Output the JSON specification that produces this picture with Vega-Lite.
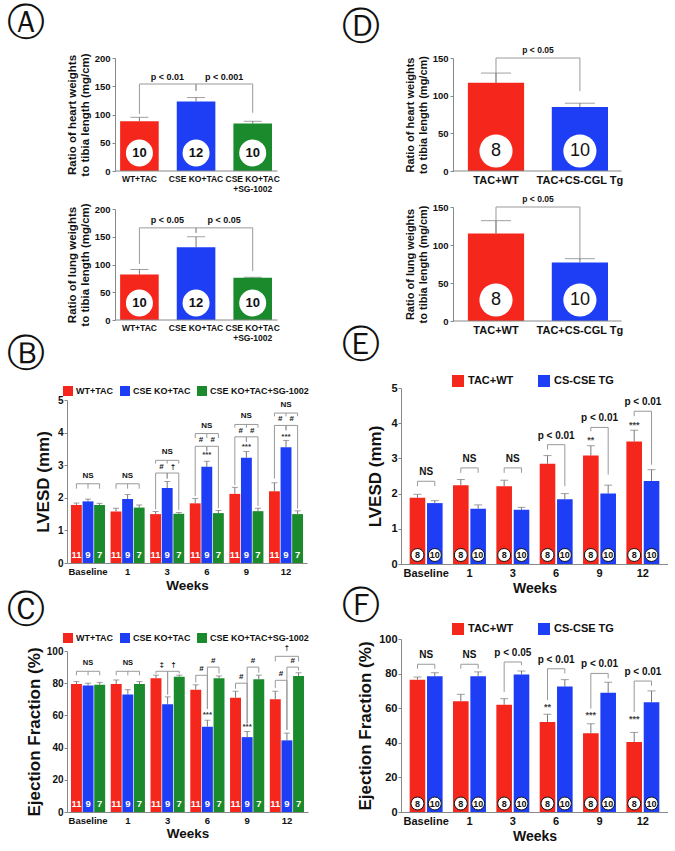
{
  "$schema": "https://vega.github.io/schema/vega-lite/v6.json",
  "padding": {"left": 7, "top": 4, "right": 0, "bottom": 0},
  "background": "white",
  "config": {
    "view": {"stroke": null},
    "font": "Liberation Sans",
    "axis": {"labelFont": "Liberation Sans", "titleFont": "Liberation Sans", "labelFontWeight": "bold", "titleFontWeight": "bold", "labelColor": "#111", "titleColor": "#111", "domainColor": "#888", "tickColor": "#888", "grid": false, "tickSize": 3, "labelOverlap": false},
    "axisX": {"ticks": false, "labelAngle": 0},
    "text": {"font": "Liberation Sans"},
    "legend": {"labelFont": "Liberation Sans", "labelFontWeight": "bold", "labelColor": "#111"}
  },
  "datasets": {
    "A_heart": [{"g": "WT+TAC", "v": 88, "e": 95, "n": "10"}, {"g": "CSE KO+TAC", "v": 123, "e": 130, "n": "12"}, {"g": "CSE KO+TAC+SG-1002", "v": 84, "e": 88, "n": "10"}],
    "A_lung": [{"g": "WT+TAC", "v": 82, "e": 91, "n": "10"}, {"g": "CSE KO+TAC", "v": 131, "e": 150, "n": "12"}, {"g": "CSE KO+TAC+SG-1002", "v": 76, "e": 77, "n": "10"}],
    "A_heart_br": [{"from": "WT+TAC", "to": "CSE KO+TAC", "level": 154, "lb": 101, "rb": 142, "label": "p < 0.01"}, {"from": "CSE KO+TAC", "to": "CSE KO+TAC+SG-1002", "level": 154, "lb": 142, "rb": 103, "label": "p < 0.001"}],
    "A_lung_br": [{"from": "WT+TAC", "to": "CSE KO+TAC", "level": 166, "lb": 101, "rb": 157, "label": "p < 0.05"}, {"from": "CSE KO+TAC", "to": "CSE KO+TAC+SG-1002", "level": 166, "lb": 157, "rb": 88, "label": "p < 0.05"}],
    "D_heart": [{"g": "TAC+WT", "v": 117, "e": 130, "n": "8"}, {"g": "TAC+CS-CGL Tg", "v": 85, "e": 90, "n": "10"}],
    "D_lung": [{"g": "TAC+WT", "v": 115, "e": 132, "n": "8"}, {"g": "TAC+CS-CGL Tg", "v": 77, "e": 82, "n": "10"}],
    "D_heart_br": [{"from": "TAC+WT", "to": "TAC+CS-CGL Tg", "level": 150, "lb": 117, "rb": 106, "label": "p < 0.05"}],
    "D_lung_br": [{"from": "TAC+WT", "to": "TAC+CS-CGL Tg", "level": 150, "lb": 115, "rb": 80, "label": "p < 0.05"}],
    "B": [
      {"week": "Baseline", "group": "WT+TAC", "v": 1.78, "e": 1.84, "n": "11"},
      {"week": "Baseline", "group": "CSE KO+TAC", "v": 1.89, "e": 1.96, "n": "9"},
      {"week": "Baseline", "group": "CSE KO+TAC+SG-1002", "v": 1.78, "e": 1.83, "n": "7"},
      {"week": "1", "group": "WT+TAC", "v": 1.58, "e": 1.68, "n": "11"},
      {"week": "1", "group": "CSE KO+TAC", "v": 1.96, "e": 2.1, "n": "9"},
      {"week": "1", "group": "CSE KO+TAC+SG-1002", "v": 1.7, "e": 1.78, "n": "7"},
      {"week": "3", "group": "WT+TAC", "v": 1.5, "e": 1.58, "n": "11"},
      {"week": "3", "group": "CSE KO+TAC", "v": 2.3, "e": 2.5, "n": "9"},
      {"week": "3", "group": "CSE KO+TAC+SG-1002", "v": 1.51, "e": 1.55, "n": "7"},
      {"week": "6", "group": "WT+TAC", "v": 1.83, "e": 1.98, "n": "11"},
      {"week": "6", "group": "CSE KO+TAC", "v": 2.95, "e": 3.12, "n": "9"},
      {"week": "6", "group": "CSE KO+TAC+SG-1002", "v": 1.53, "e": 1.61, "n": "7"},
      {"week": "9", "group": "WT+TAC", "v": 2.12, "e": 2.32, "n": "11"},
      {"week": "9", "group": "CSE KO+TAC", "v": 3.23, "e": 3.42, "n": "9"},
      {"week": "9", "group": "CSE KO+TAC+SG-1002", "v": 1.59, "e": 1.68, "n": "7"},
      {"week": "12", "group": "WT+TAC", "v": 2.2, "e": 2.46, "n": "11"},
      {"week": "12", "group": "CSE KO+TAC", "v": 3.55, "e": 3.76, "n": "9"},
      {"week": "12", "group": "CSE KO+TAC+SG-1002", "v": 1.5, "e": 1.6, "n": "7"}
    ],
    "B_stars": [{"week": "6", "group": "CSE KO+TAC", "y": 3.3, "label": "***"}, {"week": "9", "group": "CSE KO+TAC", "y": 3.56, "label": "***"}, {"week": "12", "group": "CSE KO+TAC", "y": 3.88, "label": "***"}],
    "B_br": [
      {"week": "Baseline", "from": "WT+TAC", "to": "CSE KO+TAC+SG-1002", "level": 2.43, "lb": 2.28, "rb": 2.28, "mb": 2.28, "label": "NS"},
      {"week": "1", "from": "WT+TAC", "to": "CSE KO+TAC+SG-1002", "level": 2.43, "lb": 2.28, "rb": 2.28, "mb": 2.28, "label": "NS"},
      {"week": "3", "from": "WT+TAC", "to": "CSE KO+TAC+SG-1002", "level": 3.15, "lb": 3.05, "rb": 3.05, "mb": 3.05, "label": "NS"},
      {"week": "3", "from": "WT+TAC", "to": "CSE KO+TAC", "level": 2.76, "lb": 1.65, "rb": 2.59, "label": "#"},
      {"week": "3", "from": "CSE KO+TAC", "to": "CSE KO+TAC+SG-1002", "level": 2.76, "lb": 2.59, "rb": 1.62, "label": "†"},
      {"week": "6", "from": "WT+TAC", "to": "CSE KO+TAC+SG-1002", "level": 3.97, "lb": 3.83, "rb": 3.83, "mb": 3.83, "label": "NS"},
      {"week": "6", "from": "WT+TAC", "to": "CSE KO+TAC", "level": 3.58, "lb": 2.05, "rb": 3.43, "label": "#"},
      {"week": "6", "from": "CSE KO+TAC", "to": "CSE KO+TAC+SG-1002", "level": 3.58, "lb": 3.43, "rb": 1.68, "label": "#"},
      {"week": "9", "from": "WT+TAC", "to": "CSE KO+TAC+SG-1002", "level": 4.25, "lb": 4.15, "rb": 4.15, "mb": 4.15, "label": "NS"},
      {"week": "9", "from": "WT+TAC", "to": "CSE KO+TAC", "level": 3.87, "lb": 2.39, "rb": 3.71, "label": "#"},
      {"week": "9", "from": "CSE KO+TAC", "to": "CSE KO+TAC+SG-1002", "level": 3.87, "lb": 3.71, "rb": 1.75, "label": "#"},
      {"week": "12", "from": "WT+TAC", "to": "CSE KO+TAC+SG-1002", "level": 4.6, "lb": 4.5, "rb": 4.5, "mb": 4.5, "label": "NS"},
      {"week": "12", "from": "WT+TAC", "to": "CSE KO+TAC", "level": 4.22, "lb": 2.59, "rb": 4.07, "label": "#"},
      {"week": "12", "from": "CSE KO+TAC", "to": "CSE KO+TAC+SG-1002", "level": 4.22, "lb": 4.07, "rb": 1.67, "label": "#"}
    ],
    "C": [
      {"week": "Baseline", "group": "WT+TAC", "v": 79.5, "e": 81, "n": "11"},
      {"week": "Baseline", "group": "CSE KO+TAC", "v": 78.5, "e": 80, "n": "9"},
      {"week": "Baseline", "group": "CSE KO+TAC+SG-1002", "v": 79, "e": 80.5, "n": "7"},
      {"week": "1", "group": "WT+TAC", "v": 79.5, "e": 82, "n": "11"},
      {"week": "1", "group": "CSE KO+TAC", "v": 73, "e": 76, "n": "9"},
      {"week": "1", "group": "CSE KO+TAC+SG-1002", "v": 79.5, "e": 81, "n": "7"},
      {"week": "3", "group": "WT+TAC", "v": 83, "e": 85, "n": "11"},
      {"week": "3", "group": "CSE KO+TAC", "v": 67, "e": 71.5, "n": "9"},
      {"week": "3", "group": "CSE KO+TAC+SG-1002", "v": 84, "e": 85, "n": "7"},
      {"week": "6", "group": "WT+TAC", "v": 76, "e": 79, "n": "11"},
      {"week": "6", "group": "CSE KO+TAC", "v": 53, "e": 57, "n": "9"},
      {"week": "6", "group": "CSE KO+TAC+SG-1002", "v": 83, "e": 84.5, "n": "7"},
      {"week": "9", "group": "WT+TAC", "v": 71, "e": 75, "n": "11"},
      {"week": "9", "group": "CSE KO+TAC", "v": 46.5, "e": 50, "n": "9"},
      {"week": "9", "group": "CSE KO+TAC+SG-1002", "v": 82.5, "e": 85, "n": "7"},
      {"week": "12", "group": "WT+TAC", "v": 70, "e": 75, "n": "11"},
      {"week": "12", "group": "CSE KO+TAC", "v": 44.5, "e": 49, "n": "9"},
      {"week": "12", "group": "CSE KO+TAC+SG-1002", "v": 84.5, "e": 86.5, "n": "7"}
    ],
    "C_stars": [{"week": "6", "group": "CSE KO+TAC", "y": 60.5, "label": "***"}, {"week": "9", "group": "CSE KO+TAC", "y": 52.5, "label": "***"}],
    "C_br": [
      {"week": "Baseline", "from": "WT+TAC", "to": "CSE KO+TAC+SG-1002", "level": 87.4, "lb": 84.9, "rb": 84.9, "mb": 84.9, "label": "NS"},
      {"week": "1", "from": "WT+TAC", "to": "CSE KO+TAC+SG-1002", "level": 87.4, "lb": 84.9, "rb": 84.9, "mb": 84.9, "label": "NS"},
      {"week": "3", "from": "WT+TAC", "to": "CSE KO+TAC", "level": 87.4, "lb": 86, "rb": 73, "label": "‡"},
      {"week": "3", "from": "CSE KO+TAC", "to": "CSE KO+TAC+SG-1002", "level": 87.4, "lb": 73, "rb": 86, "label": "†"},
      {"week": "6", "from": "WT+TAC", "to": "CSE KO+TAC", "level": 84.9, "lb": 80.5, "rb": 64, "label": "#"},
      {"week": "6", "from": "CSE KO+TAC", "to": "CSE KO+TAC+SG-1002", "level": 90, "lb": 64, "rb": 86, "label": "#"},
      {"week": "9", "from": "WT+TAC", "to": "CSE KO+TAC", "level": 80, "lb": 76.5, "rb": 55, "label": "#"},
      {"week": "9", "from": "CSE KO+TAC", "to": "CSE KO+TAC+SG-1002", "level": 90, "lb": 55, "rb": 86.5, "label": "#"},
      {"week": "12", "from": "WT+TAC", "to": "CSE KO+TAC+SG-1002", "level": 96.7, "lb": 93.5, "rb": 93.5, "label": "†"},
      {"week": "12", "from": "WT+TAC", "to": "CSE KO+TAC", "level": 81.8, "lb": 77, "rb": 51, "label": "#"},
      {"week": "12", "from": "CSE KO+TAC", "to": "CSE KO+TAC+SG-1002", "level": 90, "lb": 51, "rb": 88, "label": "#"}
    ],
    "E": [
      {"week": "Baseline", "group": "TAC+WT", "v": 1.88, "e": 1.98, "n": "8"},
      {"week": "Baseline", "group": "CS-CSE TG", "v": 1.73, "e": 1.8, "n": "10"},
      {"week": "1", "group": "TAC+WT", "v": 2.24, "e": 2.4, "n": "8"},
      {"week": "1", "group": "CS-CSE TG", "v": 1.57, "e": 1.68, "n": "10"},
      {"week": "3", "group": "TAC+WT", "v": 2.21, "e": 2.38, "n": "8"},
      {"week": "3", "group": "CS-CSE TG", "v": 1.54, "e": 1.61, "n": "10"},
      {"week": "6", "group": "TAC+WT", "v": 2.85, "e": 3.08, "n": "8"},
      {"week": "6", "group": "CS-CSE TG", "v": 1.84, "e": 2.0, "n": "10"},
      {"week": "9", "group": "TAC+WT", "v": 3.08, "e": 3.36, "n": "8"},
      {"week": "9", "group": "CS-CSE TG", "v": 2.0, "e": 2.24, "n": "10"},
      {"week": "12", "group": "TAC+WT", "v": 3.48, "e": 3.8, "n": "8"},
      {"week": "12", "group": "CS-CSE TG", "v": 2.36, "e": 2.68, "n": "10"}
    ],
    "E_stars": [{"week": "9", "group": "TAC+WT", "y": 3.53, "label": "**"}, {"week": "12", "group": "TAC+WT", "y": 3.96, "label": "***"}],
    "E_br": [
      {"week": "Baseline", "from": "TAC+WT", "to": "CS-CSE TG", "level": 2.35, "lb": 2.21, "rb": 2.21, "label": "NS"},
      {"week": "1", "from": "TAC+WT", "to": "CS-CSE TG", "level": 2.73, "lb": 2.59, "rb": 2.59, "label": "NS"},
      {"week": "3", "from": "TAC+WT", "to": "CS-CSE TG", "level": 2.73, "lb": 2.59, "rb": 2.59, "label": "NS"},
      {"week": "6", "from": "TAC+WT", "to": "CS-CSE TG", "level": 3.39, "lb": 3.25, "rb": 2.21, "label": "p < 0.01"},
      {"week": "9", "from": "TAC+WT", "to": "CS-CSE TG", "level": 3.88, "lb": 3.77, "rb": 2.54, "label": "p < 0.01"},
      {"week": "12", "from": "TAC+WT", "to": "CS-CSE TG", "level": 4.34, "lb": 4.2, "rb": 2.82, "label": "p < 0.01"}
    ],
    "F": [
      {"week": "Baseline", "group": "TAC+WT", "v": 76.5, "e": 78, "n": "8"},
      {"week": "Baseline", "group": "CS-CSE TG", "v": 78.5, "e": 80.5, "n": "10"},
      {"week": "1", "group": "TAC+WT", "v": 64, "e": 68, "n": "8"},
      {"week": "1", "group": "CS-CSE TG", "v": 78.5, "e": 81, "n": "10"},
      {"week": "3", "group": "TAC+WT", "v": 62, "e": 65.5, "n": "8"},
      {"week": "3", "group": "CS-CSE TG", "v": 79.5, "e": 81.5, "n": "10"},
      {"week": "6", "group": "TAC+WT", "v": 52, "e": 56.5, "n": "8"},
      {"week": "6", "group": "CS-CSE TG", "v": 72.5, "e": 76.5, "n": "10"},
      {"week": "9", "group": "TAC+WT", "v": 45.5, "e": 51, "n": "8"},
      {"week": "9", "group": "CS-CSE TG", "v": 69, "e": 75, "n": "10"},
      {"week": "12", "group": "TAC+WT", "v": 40.5, "e": 46, "n": "8"},
      {"week": "12", "group": "CS-CSE TG", "v": 63.5, "e": 70, "n": "10"}
    ],
    "F_stars": [{"week": "6", "group": "TAC+WT", "y": 60.8, "label": "**"}, {"week": "9", "group": "TAC+WT", "y": 56, "label": "***"}, {"week": "12", "group": "TAC+WT", "y": 54, "label": "***"}],
    "F_br": [
      {"week": "Baseline", "from": "TAC+WT", "to": "CS-CSE TG", "level": 85.4, "lb": 82.8, "rb": 82.8, "label": "NS"},
      {"week": "1", "from": "TAC+WT", "to": "CS-CSE TG", "level": 85.4, "lb": 82.8, "rb": 82.8, "label": "NS"},
      {"week": "3", "from": "TAC+WT", "to": "CS-CSE TG", "level": 86.7, "lb": 69.4, "rb": 84.8, "label": "p < 0.05"},
      {"week": "6", "from": "TAC+WT", "to": "CS-CSE TG", "level": 82.8, "lb": 64.7, "rb": 80.1, "label": "p < 0.01"},
      {"week": "9", "from": "TAC+WT", "to": "CS-CSE TG", "level": 80.1, "lb": 59.7, "rb": 77.2, "label": "p < 0.01"},
      {"week": "12", "from": "TAC+WT", "to": "CS-CSE TG", "level": 75.7, "lb": 57.8, "rb": 73, "label": "p < 0.01"}
    ]
  },
  "resolve": {"scale": {"color": "independent", "xOffset": "independent"}, "legend": {"color": "independent"}},
  "spacing": 33,
  "hconcat": [
    {
      "resolve": {"scale": {"color": "independent", "xOffset": "independent"}, "legend": {"color": "independent"}},
      "spacing": -6,
      "vconcat": [
        {
          "resolve": {"scale": {"color": "independent"}, "legend": {"color": "independent"}},
          "spacing": 9,
          "vconcat": [
            {
              "width": 210, "height": 113,
              "title": {"text": "Ⓐ", "anchor": "start", "frame": "group", "dx": -60, "offset": 10, "fontSize": 38, "fontWeight": "normal", "font": "DejaVu Sans", "color": "#111"},
              "resolve": {"axis": {"y": "independent"}},
              "layer": [
                {"data": {"name": "A_heart"}, "mark": {"type": "rule", "color": "#777"}, "encoding": {
                  "x": {"field": "g", "type": "nominal", "scale": {"domain": ["WT+TAC", "CSE KO+TAC", "CSE KO+TAC+SG-1002"], "paddingInner": 0.3186, "paddingOuter": 0.513, "align": 0.914}, "axis": {"title": null, "domain": false, "labelFontSize": 8.5, "labelPadding": 3, "labelLineHeight": 10, "labelExpr": "datum.value == 'CSE KO+TAC+SG-1002' ? ['CSE KO+TAC', '+SG-1002'] : datum.value"}},
                  "y": {"field": "v", "type": "quantitative", "scale": {"domain": [0, 200], "nice": false}, "axis": null},
                  "y2": {"field": "e"}}},
                {"data": {"name": "A_heart"}, "mark": {"type": "tick", "color": "#777", "size": 18, "thickness": 1, "orient": "horizontal"}, "encoding": {"x": {"field": "g", "type": "nominal"}, "y": {"field": "e", "type": "quantitative", "axis": null}}},
                {"data": {"name": "A_heart"}, "mark": {"type": "bar"}, "encoding": {
                  "x": {"field": "g", "type": "nominal", "scale": {"domain": ["WT+TAC", "CSE KO+TAC", "CSE KO+TAC+SG-1002"], "paddingInner": 0.3186, "paddingOuter": 0.513, "align": 0.914}, "axis": {"title": null, "domain": false, "labelFontSize": 8.5, "labelPadding": 3, "labelLineHeight": 10, "labelExpr": "datum.value == 'CSE KO+TAC+SG-1002' ? ['CSE KO+TAC', '+SG-1002'] : datum.value"}},
                  "y": {"field": "v", "type": "quantitative", "scale": {"domain": [0, 200], "nice": false}, "axis": {"orient": "left", "values": [0, 50, 100, 150, 200], "labelOverlap": false, "offset": -48, "title": ["Ratio of heart weights", "to tibia length (mg/cm)"], "titleFontSize": 11.5, "titleLineHeight": 13, "labelFontSize": 9.5, "titlePadding": 4}},
                  "color": {"field": "g", "type": "nominal", "scale": {"domain": ["WT+TAC", "CSE KO+TAC", "CSE KO+TAC+SG-1002"], "range": ["#f5261b", "#1d3ef4", "#1a8a2c"]}, "legend": null}}},
                {"data": {"values": [{}]}, "mark": {"type": "rule", "color": "#888"}, "encoding": {"x": {"datum": "WT+TAC", "type": "nominal", "bandPosition": -0.13}, "x2": {"datum": "CSE KO+TAC+SG-1002", "bandPosition": 1.143}, "y": {"datum": 0, "type": "quantitative", "axis": null}}},
                {"data": {"name": "A_heart"}, "mark": {"type": "point", "filled": true, "color": "white", "opacity": 1, "size": 729, "yOffset": -18}, "encoding": {"x": {"field": "g", "type": "nominal"}, "y": {"datum": 0, "type": "quantitative", "axis": null}}},
                {"data": {"name": "A_heart"}, "mark": {"type": "text", "fontSize": 13, "fontWeight": "bold", "color": "#111", "dy": -18, "baseline": "middle"}, "encoding": {"x": {"field": "g", "type": "nominal"}, "y": {"datum": 0, "type": "quantitative", "axis": null}, "text": {"field": "n"}}},
                {"data": {"name": "A_heart_br"}, "mark": {"type": "rule", "color": "#999"}, "encoding": {"x": {"field": "from", "type": "nominal"}, "x2": {"field": "to"}, "y": {"field": "level", "type": "quantitative", "axis": null}}},
                {"data": {"name": "A_heart_br"}, "mark": {"type": "rule", "color": "#999"}, "encoding": {"x": {"field": "from", "type": "nominal"}, "y": {"field": "level", "type": "quantitative", "axis": null}, "y2": {"field": "lb"}}},
                {"data": {"name": "A_heart_br"}, "mark": {"type": "rule", "color": "#999"}, "encoding": {"x": {"field": "to", "type": "nominal"}, "y": {"field": "level", "type": "quantitative", "axis": null}, "y2": {"field": "rb"}}},
                {"data": {"name": "A_heart_br"}, "mark": {"type": "text", "fontSize": 9, "fontWeight": "bold", "color": "#111", "dx": 28, "dy": -7}, "encoding": {"x": {"field": "from", "type": "nominal"}, "y": {"field": "level", "type": "quantitative", "axis": null}, "text": {"field": "label"}}}
              ]
            },
            {
              "width": 210, "height": 111,
              "resolve": {"axis": {"y": "independent"}},
              "layer": [
                {"data": {"name": "A_lung"}, "mark": {"type": "rule", "color": "#777"}, "encoding": {
                  "x": {"field": "g", "type": "nominal", "scale": {"domain": ["WT+TAC", "CSE KO+TAC", "CSE KO+TAC+SG-1002"], "paddingInner": 0.3186, "paddingOuter": 0.513, "align": 0.914}, "axis": {"title": null, "domain": false, "labelFontSize": 8.5, "labelPadding": 3, "labelLineHeight": 10, "labelExpr": "datum.value == 'CSE KO+TAC+SG-1002' ? ['CSE KO+TAC', '+SG-1002'] : datum.value"}},
                  "y": {"field": "v", "type": "quantitative", "scale": {"domain": [0, 200], "nice": false}, "axis": null},
                  "y2": {"field": "e"}}},
                {"data": {"name": "A_lung"}, "mark": {"type": "tick", "color": "#777", "size": 18, "thickness": 1, "orient": "horizontal"}, "encoding": {"x": {"field": "g", "type": "nominal"}, "y": {"field": "e", "type": "quantitative", "axis": null}}},
                {"data": {"name": "A_lung"}, "mark": {"type": "bar"}, "encoding": {
                  "x": {"field": "g", "type": "nominal", "scale": {"domain": ["WT+TAC", "CSE KO+TAC", "CSE KO+TAC+SG-1002"], "paddingInner": 0.3186, "paddingOuter": 0.513, "align": 0.914}, "axis": {"title": null, "domain": false, "labelFontSize": 8.5, "labelPadding": 3, "labelLineHeight": 10, "labelExpr": "datum.value == 'CSE KO+TAC+SG-1002' ? ['CSE KO+TAC', '+SG-1002'] : datum.value"}},
                  "y": {"field": "v", "type": "quantitative", "scale": {"domain": [0, 200], "nice": false}, "axis": {"orient": "left", "values": [0, 50, 100, 150, 200], "labelOverlap": false, "offset": -48, "title": ["Ratio of lung weights", "to tibia length (mg/cm)"], "titleFontSize": 11.5, "titleLineHeight": 13, "labelFontSize": 9.5, "titlePadding": 4}},
                  "color": {"field": "g", "type": "nominal", "scale": {"domain": ["WT+TAC", "CSE KO+TAC", "CSE KO+TAC+SG-1002"], "range": ["#f5261b", "#1d3ef4", "#1a8a2c"]}, "legend": null}}},
                {"data": {"values": [{}]}, "mark": {"type": "rule", "color": "#888"}, "encoding": {"x": {"datum": "WT+TAC", "type": "nominal", "bandPosition": -0.13}, "x2": {"datum": "CSE KO+TAC+SG-1002", "bandPosition": 1.143}, "y": {"datum": 0, "type": "quantitative", "axis": null}}},
                {"data": {"name": "A_lung"}, "mark": {"type": "point", "filled": true, "color": "white", "opacity": 1, "size": 729, "yOffset": -17}, "encoding": {"x": {"field": "g", "type": "nominal"}, "y": {"datum": 0, "type": "quantitative", "axis": null}}},
                {"data": {"name": "A_lung"}, "mark": {"type": "text", "fontSize": 13, "fontWeight": "bold", "color": "#111", "dy": -17, "baseline": "middle"}, "encoding": {"x": {"field": "g", "type": "nominal"}, "y": {"datum": 0, "type": "quantitative", "axis": null}, "text": {"field": "n"}}},
                {"data": {"name": "A_lung_br"}, "mark": {"type": "rule", "color": "#999"}, "encoding": {"x": {"field": "from", "type": "nominal"}, "x2": {"field": "to"}, "y": {"field": "level", "type": "quantitative", "axis": null}}},
                {"data": {"name": "A_lung_br"}, "mark": {"type": "rule", "color": "#999"}, "encoding": {"x": {"field": "from", "type": "nominal"}, "y": {"field": "level", "type": "quantitative", "axis": null}, "y2": {"field": "lb"}}},
                {"data": {"name": "A_lung_br"}, "mark": {"type": "rule", "color": "#999"}, "encoding": {"x": {"field": "to", "type": "nominal"}, "y": {"field": "level", "type": "quantitative", "axis": null}, "y2": {"field": "rb"}}},
                {"data": {"name": "A_lung_br"}, "mark": {"type": "text", "fontSize": 9, "fontWeight": "bold", "color": "#111", "dx": 28, "dy": -8}, "encoding": {"x": {"field": "from", "type": "nominal"}, "y": {"field": "level", "type": "quantitative", "axis": null}, "text": {"field": "label"}}}
              ]
            }
          ]
        },
        {
          "resolve": {"scale": {"color": "independent", "xOffset": "independent"}, "legend": {"color": "independent"}},
          "spacing": 0,
          "vconcat": [
            {
              "width": 240, "height": 163,
              "title": {"text": "Ⓑ", "anchor": "start", "frame": "group", "dx": -60, "offset": 12, "fontSize": 38, "fontWeight": "normal", "font": "DejaVu Sans", "color": "#111"},
              "resolve": {"axis": {"y": "independent"}},
              "layer": [
                {"data": {"name": "B"}, "mark": {"type": "rule", "color": "#777"}, "encoding": {
                  "x": {"field": "week", "type": "nominal", "scale": {"domain": ["Baseline", "1", "3", "6", "9", "12"], "paddingInner": 0.14, "paddingOuter": 0.1}, "axis": {"title": "Weeks", "titleFontSize": 13.5, "titlePadding": 3, "labelFontSize": 9.5, "labelPadding": 3}},
                  "xOffset": {"field": "group", "type": "nominal", "scale": {"domain": ["WT+TAC", "CSE KO+TAC", "CSE KO+TAC+SG-1002"], "paddingInner": 0.06, "paddingOuter": 0}},
                  "y": {"field": "v", "type": "quantitative", "scale": {"domain": [0, 5], "nice": false}, "axis": null},
                  "y2": {"field": "e"}}},
                {"data": {"name": "B"}, "mark": {"type": "tick", "color": "#777", "size": 6, "thickness": 1, "orient": "horizontal"}, "encoding": {"x": {"field": "week", "type": "nominal"}, "xOffset": {"field": "group", "type": "nominal"}, "y": {"field": "e", "type": "quantitative", "axis": null}}},
                {"data": {"name": "B"}, "mark": {"type": "bar"}, "encoding": {
                  "x": {"field": "week", "type": "nominal", "scale": {"domain": ["Baseline", "1", "3", "6", "9", "12"], "paddingInner": 0.14, "paddingOuter": 0.1}, "axis": {"title": "Weeks", "titleFontSize": 13.5, "titlePadding": 3, "labelFontSize": 9.5, "labelPadding": 3}},
                  "xOffset": {"field": "group", "type": "nominal", "scale": {"domain": ["WT+TAC", "CSE KO+TAC", "CSE KO+TAC+SG-1002"], "paddingInner": 0.06, "paddingOuter": 0}},
                  "y": {"field": "v", "type": "quantitative", "scale": {"domain": [0, 5], "nice": false}, "axis": {"orient": "left", "values": [0, 1, 2, 3, 4, 5], "labelOverlap": false, "title": "LVESD (mm)", "titleFontSize": 17, "titlePadding": 5, "labelFontSize": 10, "labelPadding": 1}},
                  "color": {"field": "group", "type": "nominal", "scale": {"domain": ["WT+TAC", "CSE KO+TAC", "CSE KO+TAC+SG-1002"], "range": ["#f5261b", "#1d3ef4", "#1a8a2c"]}, "legend": {"orient": "none", "legendX": -4, "legendY": -14, "direction": "horizontal", "title": null, "symbolType": "square", "symbolSize": 100, "symbolStrokeWidth": 0, "symbolOpacity": 1, "labelFontSize": 9, "columnPadding": 6, "labelOffset": 3}}}},
                {"data": {"name": "B"}, "mark": {"type": "text", "fontSize": 9.5, "fontWeight": "bold", "color": "white", "dy": -8, "baseline": "middle"}, "encoding": {"x": {"field": "week", "type": "nominal"}, "xOffset": {"field": "group", "type": "nominal"}, "y": {"datum": 0, "type": "quantitative", "axis": null}, "text": {"field": "n"}}},
                {"data": {"name": "B_stars"}, "mark": {"type": "text", "fontSize": 8, "fontWeight": "bold", "color": "#333", "baseline": "middle"}, "encoding": {"x": {"field": "week", "type": "nominal"}, "xOffset": {"field": "group", "type": "nominal"}, "y": {"field": "y", "type": "quantitative", "axis": null}, "text": {"field": "label"}}},
                {"data": {"name": "B_br"}, "transform": [{"filter": "datum.from == 'WT+TAC' && datum.to == 'CSE KO+TAC'"}], "mark": {"type": "rule", "color": "#999"}, "encoding": {"x": {"field": "week", "type": "nominal", "bandPosition": 0.16}, "x2": {"field": "week", "bandPosition": 0.5}, "y": {"field": "level", "type": "quantitative", "axis": null}}},
                {"data": {"name": "B_br"}, "transform": [{"filter": "datum.from == 'CSE KO+TAC'"}], "mark": {"type": "rule", "color": "#999"}, "encoding": {"x": {"field": "week", "type": "nominal", "bandPosition": 0.5}, "x2": {"field": "week", "bandPosition": 0.84}, "y": {"field": "level", "type": "quantitative", "axis": null}}},
                {"data": {"name": "B_br"}, "transform": [{"filter": "datum.from == 'WT+TAC' && datum.to == 'CSE KO+TAC+SG-1002'"}], "mark": {"type": "rule", "color": "#999"}, "encoding": {"x": {"field": "week", "type": "nominal", "bandPosition": 0.16}, "x2": {"field": "week", "bandPosition": 0.84}, "y": {"field": "level", "type": "quantitative", "axis": null}}},
                {"data": {"name": "B_br"}, "mark": {"type": "rule", "color": "#999"}, "encoding": {"x": {"field": "week", "type": "nominal"}, "xOffset": {"field": "from", "type": "nominal"}, "y": {"field": "level", "type": "quantitative", "axis": null}, "y2": {"field": "lb"}}},
                {"data": {"name": "B_br"}, "mark": {"type": "rule", "color": "#999"}, "encoding": {"x": {"field": "week", "type": "nominal"}, "xOffset": {"field": "to", "type": "nominal"}, "y": {"field": "level", "type": "quantitative", "axis": null}, "y2": {"field": "rb"}}},
                {"data": {"name": "B_br"}, "transform": [{"filter": "isValid(datum.mb)"}], "mark": {"type": "rule", "color": "#999"}, "encoding": {"x": {"field": "week", "type": "nominal"}, "y": {"field": "level", "type": "quantitative", "axis": null}, "y2": {"field": "mb"}}},
                {"data": {"name": "B_br"}, "transform": [{"filter": "datum.from == 'WT+TAC' && datum.to == 'CSE KO+TAC+SG-1002'"}], "mark": {"type": "text", "fontSize": 8, "fontWeight": "bold", "color": "#111", "dy": -8, "baseline": "middle"}, "encoding": {"x": {"field": "week", "type": "nominal"}, "y": {"field": "level", "type": "quantitative", "axis": null}, "text": {"field": "label"}}},
                {"data": {"name": "B_br"}, "transform": [{"filter": "!(datum.from == 'WT+TAC' && datum.to == 'CSE KO+TAC+SG-1002')"}], "mark": {"type": "text", "fontSize": 8, "fontWeight": "bold", "color": "#111", "dx": 5.8, "dy": -6, "baseline": "middle"}, "encoding": {"x": {"field": "week", "type": "nominal"}, "xOffset": {"field": "from", "type": "nominal"}, "y": {"field": "level", "type": "quantitative", "axis": null}, "text": {"field": "label"}}}
              ]
            },
            {
              "width": 241, "height": 161,
              "title": {"text": "Ⓒ", "anchor": "start", "frame": "group", "dx": -60, "offset": 3, "fontSize": 38, "fontWeight": "normal", "font": "DejaVu Sans", "color": "#111"},
              "resolve": {"axis": {"y": "independent"}},
              "layer": [
                {"data": {"name": "C"}, "mark": {"type": "rule", "color": "#777"}, "encoding": {
                  "x": {"field": "week", "type": "nominal", "scale": {"domain": ["Baseline", "1", "3", "6", "9", "12"], "paddingInner": 0.14, "paddingOuter": 0.1}, "axis": {"title": "Weeks", "titleFontSize": 13.5, "titlePadding": 2, "labelFontSize": 9.5, "labelPadding": 3}},
                  "xOffset": {"field": "group", "type": "nominal", "scale": {"domain": ["WT+TAC", "CSE KO+TAC", "CSE KO+TAC+SG-1002"], "paddingInner": 0.06, "paddingOuter": 0}},
                  "y": {"field": "v", "type": "quantitative", "scale": {"domain": [0, 100], "nice": false}, "axis": null},
                  "y2": {"field": "e"}}},
                {"data": {"name": "C"}, "mark": {"type": "tick", "color": "#777", "size": 6, "thickness": 1, "orient": "horizontal"}, "encoding": {"x": {"field": "week", "type": "nominal"}, "xOffset": {"field": "group", "type": "nominal"}, "y": {"field": "e", "type": "quantitative", "axis": null}}},
                {"data": {"name": "C"}, "mark": {"type": "bar"}, "encoding": {
                  "x": {"field": "week", "type": "nominal", "scale": {"domain": ["Baseline", "1", "3", "6", "9", "12"], "paddingInner": 0.14, "paddingOuter": 0.1}, "axis": {"title": "Weeks", "titleFontSize": 13.5, "titlePadding": 2, "labelFontSize": 9.5, "labelPadding": 3}},
                  "xOffset": {"field": "group", "type": "nominal", "scale": {"domain": ["WT+TAC", "CSE KO+TAC", "CSE KO+TAC+SG-1002"], "paddingInner": 0.06, "paddingOuter": 0}},
                  "y": {"field": "v", "type": "quantitative", "scale": {"domain": [0, 100], "nice": false}, "axis": {"orient": "left", "values": [0, 20, 40, 60, 80, 100], "labelOverlap": false, "title": "Ejection Fraction (%)", "titleFontSize": 17, "titlePadding": 3, "labelFontSize": 10, "labelPadding": 1}},
                  "color": {"field": "group", "type": "nominal", "scale": {"domain": ["WT+TAC", "CSE KO+TAC", "CSE KO+TAC+SG-1002"], "range": ["#f5261b", "#1d3ef4", "#1a8a2c"]}, "legend": {"orient": "none", "legendX": -4, "legendY": -18, "direction": "horizontal", "title": null, "symbolType": "square", "symbolSize": 100, "symbolStrokeWidth": 0, "symbolOpacity": 1, "labelFontSize": 9, "columnPadding": 6, "labelOffset": 3}}}},
                {"data": {"name": "C"}, "mark": {"type": "text", "fontSize": 9.5, "fontWeight": "bold", "color": "white", "dy": -8, "baseline": "middle"}, "encoding": {"x": {"field": "week", "type": "nominal"}, "xOffset": {"field": "group", "type": "nominal"}, "y": {"datum": 0, "type": "quantitative", "axis": null}, "text": {"field": "n"}}},
                {"data": {"name": "C_stars"}, "mark": {"type": "text", "fontSize": 8, "fontWeight": "bold", "color": "#333", "baseline": "middle"}, "encoding": {"x": {"field": "week", "type": "nominal"}, "xOffset": {"field": "group", "type": "nominal"}, "y": {"field": "y", "type": "quantitative", "axis": null}, "text": {"field": "label"}}},
                {"data": {"name": "C_br"}, "transform": [{"filter": "datum.from == 'WT+TAC' && datum.to == 'CSE KO+TAC'"}], "mark": {"type": "rule", "color": "#999"}, "encoding": {"x": {"field": "week", "type": "nominal", "bandPosition": 0.16}, "x2": {"field": "week", "bandPosition": 0.5}, "y": {"field": "level", "type": "quantitative", "axis": null}}},
                {"data": {"name": "C_br"}, "transform": [{"filter": "datum.from == 'CSE KO+TAC'"}], "mark": {"type": "rule", "color": "#999"}, "encoding": {"x": {"field": "week", "type": "nominal", "bandPosition": 0.5}, "x2": {"field": "week", "bandPosition": 0.84}, "y": {"field": "level", "type": "quantitative", "axis": null}}},
                {"data": {"name": "C_br"}, "transform": [{"filter": "datum.from == 'WT+TAC' && datum.to == 'CSE KO+TAC+SG-1002'"}], "mark": {"type": "rule", "color": "#999"}, "encoding": {"x": {"field": "week", "type": "nominal", "bandPosition": 0.16}, "x2": {"field": "week", "bandPosition": 0.84}, "y": {"field": "level", "type": "quantitative", "axis": null}}},
                {"data": {"name": "C_br"}, "mark": {"type": "rule", "color": "#999"}, "encoding": {"x": {"field": "week", "type": "nominal"}, "xOffset": {"field": "from", "type": "nominal"}, "y": {"field": "level", "type": "quantitative", "axis": null}, "y2": {"field": "lb"}}},
                {"data": {"name": "C_br"}, "mark": {"type": "rule", "color": "#999"}, "encoding": {"x": {"field": "week", "type": "nominal"}, "xOffset": {"field": "to", "type": "nominal"}, "y": {"field": "level", "type": "quantitative", "axis": null}, "y2": {"field": "rb"}}},
                {"data": {"name": "C_br"}, "transform": [{"filter": "isValid(datum.mb)"}], "mark": {"type": "rule", "color": "#999"}, "encoding": {"x": {"field": "week", "type": "nominal"}, "y": {"field": "level", "type": "quantitative", "axis": null}, "y2": {"field": "mb"}}},
                {"data": {"name": "C_br"}, "transform": [{"filter": "datum.from == 'WT+TAC' && datum.to == 'CSE KO+TAC+SG-1002'"}], "mark": {"type": "text", "fontSize": 7.5, "fontWeight": "bold", "color": "#111", "dy": -8, "baseline": "middle"}, "encoding": {"x": {"field": "week", "type": "nominal"}, "y": {"field": "level", "type": "quantitative", "axis": null}, "text": {"field": "label"}}},
                {"data": {"name": "C_br"}, "transform": [{"filter": "!(datum.from == 'WT+TAC' && datum.to == 'CSE KO+TAC+SG-1002')"}], "mark": {"type": "text", "fontSize": 8, "fontWeight": "bold", "color": "#111", "dx": 5.8, "dy": -6, "baseline": "middle"}, "encoding": {"x": {"field": "week", "type": "nominal"}, "xOffset": {"field": "from", "type": "nominal"}, "y": {"field": "level", "type": "quantitative", "axis": null}, "text": {"field": "label"}}}
              ]
            }
          ]
        }
      ]
    },
    {
      "resolve": {"scale": {"color": "independent", "xOffset": "independent"}, "legend": {"color": "independent"}},
      "spacing": -8,
      "vconcat": [
        {
          "resolve": {"scale": {"color": "independent"}, "legend": {"color": "independent"}},
          "spacing": 10,
          "vconcat": [
            {
              "width": 221, "height": 113,
              "title": {"text": "Ⓓ", "anchor": "start", "frame": "group", "dx": -59, "offset": -1, "fontSize": 38, "fontWeight": "normal", "font": "DejaVu Sans", "color": "#111"},
              "resolve": {"axis": {"y": "independent"}},
              "layer": [
                {"data": {"name": "D_heart"}, "mark": {"type": "rule", "color": "#777"}, "encoding": {
                  "x": {"field": "g", "type": "nominal", "scale": {"domain": ["TAC+WT", "TAC+CS-CGL Tg"], "paddingInner": 0.33, "paddingOuter": 0.482, "align": 0.827}, "axis": {"title": null, "domain": false, "labelFontSize": 11, "labelPadding": 3}},
                  "y": {"field": "v", "type": "quantitative", "scale": {"domain": [0, 150], "nice": false}, "axis": null},
                  "y2": {"field": "e"}}},
                {"data": {"name": "D_heart"}, "mark": {"type": "tick", "color": "#777", "size": 30, "thickness": 1, "orient": "horizontal"}, "encoding": {"x": {"field": "g", "type": "nominal"}, "y": {"field": "e", "type": "quantitative", "axis": null}}},
                {"data": {"name": "D_heart"}, "mark": {"type": "bar"}, "encoding": {
                  "x": {"field": "g", "type": "nominal", "scale": {"domain": ["TAC+WT", "TAC+CS-CGL Tg"], "paddingInner": 0.33, "paddingOuter": 0.482, "align": 0.827}, "axis": {"title": null, "domain": false, "labelFontSize": 11, "labelPadding": 3}},
                  "y": {"field": "v", "type": "quantitative", "scale": {"domain": [0, 150], "nice": false}, "axis": {"orient": "left", "values": [0, 50, 100, 150], "labelOverlap": false, "offset": -52, "title": ["Ratio of heart weights", "to tibia length (mg/cm)"], "titleFontSize": 11, "titleLineHeight": 13, "labelFontSize": 9.5, "titlePadding": 4}},
                  "color": {"field": "g", "type": "nominal", "scale": {"domain": ["TAC+WT", "TAC+CS-CGL Tg"], "range": ["#f5261b", "#1d3ef4"]}, "legend": null}}},
                {"data": {"values": [{}]}, "mark": {"type": "rule", "color": "#888"}, "encoding": {"x": {"datum": "TAC+WT", "type": "nominal", "bandPosition": -0.27}, "x2": {"datum": "TAC+CS-CGL Tg", "bandPosition": 1.24}, "y": {"datum": 0, "type": "quantitative", "axis": null}}},
                {"data": {"name": "D_heart"}, "mark": {"type": "point", "filled": true, "color": "white", "opacity": 1, "size": 1100, "yOffset": -20}, "encoding": {"x": {"field": "g", "type": "nominal"}, "y": {"datum": 0, "type": "quantitative", "axis": null}}},
                {"data": {"name": "D_heart"}, "mark": {"type": "text", "fontSize": 18, "fontWeight": "normal", "color": "#111", "dy": -20, "baseline": "middle"}, "encoding": {"x": {"field": "g", "type": "nominal"}, "y": {"datum": 0, "type": "quantitative", "axis": null}, "text": {"field": "n"}}},
                {"data": {"name": "D_heart_br"}, "mark": {"type": "rule", "color": "#999"}, "encoding": {"x": {"field": "from", "type": "nominal"}, "x2": {"field": "to"}, "y": {"field": "level", "type": "quantitative", "axis": null}}},
                {"data": {"name": "D_heart_br"}, "mark": {"type": "rule", "color": "#999"}, "encoding": {"x": {"field": "from", "type": "nominal"}, "y": {"field": "level", "type": "quantitative", "axis": null}, "y2": {"field": "lb"}}},
                {"data": {"name": "D_heart_br"}, "mark": {"type": "rule", "color": "#999"}, "encoding": {"x": {"field": "to", "type": "nominal"}, "y": {"field": "level", "type": "quantitative", "axis": null}, "y2": {"field": "rb"}}},
                {"data": {"name": "D_heart_br"}, "mark": {"type": "text", "fontSize": 8.5, "fontWeight": "bold", "color": "#111", "dx": 42, "dy": -8}, "encoding": {"x": {"field": "from", "type": "nominal"}, "y": {"field": "level", "type": "quantitative", "axis": null}, "text": {"field": "label"}}}
              ]
            },
            {
              "width": 221, "height": 114,
              "resolve": {"axis": {"y": "independent"}},
              "layer": [
                {"data": {"name": "D_lung"}, "mark": {"type": "rule", "color": "#777"}, "encoding": {
                  "x": {"field": "g", "type": "nominal", "scale": {"domain": ["TAC+WT", "TAC+CS-CGL Tg"], "paddingInner": 0.33, "paddingOuter": 0.482, "align": 0.827}, "axis": {"title": null, "domain": false, "labelFontSize": 11, "labelPadding": 3}},
                  "y": {"field": "v", "type": "quantitative", "scale": {"domain": [0, 150], "nice": false}, "axis": null},
                  "y2": {"field": "e"}}},
                {"data": {"name": "D_lung"}, "mark": {"type": "tick", "color": "#777", "size": 30, "thickness": 1, "orient": "horizontal"}, "encoding": {"x": {"field": "g", "type": "nominal"}, "y": {"field": "e", "type": "quantitative", "axis": null}}},
                {"data": {"name": "D_lung"}, "mark": {"type": "bar"}, "encoding": {
                  "x": {"field": "g", "type": "nominal", "scale": {"domain": ["TAC+WT", "TAC+CS-CGL Tg"], "paddingInner": 0.33, "paddingOuter": 0.482, "align": 0.827}, "axis": {"title": null, "domain": false, "labelFontSize": 11, "labelPadding": 3}},
                  "y": {"field": "v", "type": "quantitative", "scale": {"domain": [0, 150], "nice": false}, "axis": {"orient": "left", "values": [0, 50, 100, 150], "labelOverlap": false, "offset": -52, "title": ["Ratio of lung weights", "to tibia length (mg/cm)"], "titleFontSize": 11, "titleLineHeight": 13, "labelFontSize": 9.5, "titlePadding": 4}},
                  "color": {"field": "g", "type": "nominal", "scale": {"domain": ["TAC+WT", "TAC+CS-CGL Tg"], "range": ["#f5261b", "#1d3ef4"]}, "legend": null}}},
                {"data": {"values": [{}]}, "mark": {"type": "rule", "color": "#888"}, "encoding": {"x": {"datum": "TAC+WT", "type": "nominal", "bandPosition": -0.27}, "x2": {"datum": "TAC+CS-CGL Tg", "bandPosition": 1.24}, "y": {"datum": 0, "type": "quantitative", "axis": null}}},
                {"data": {"name": "D_lung"}, "mark": {"type": "point", "filled": true, "color": "white", "opacity": 1, "size": 1100, "yOffset": -21}, "encoding": {"x": {"field": "g", "type": "nominal"}, "y": {"datum": 0, "type": "quantitative", "axis": null}}},
                {"data": {"name": "D_lung"}, "mark": {"type": "text", "fontSize": 18, "fontWeight": "normal", "color": "#111", "dy": -21, "baseline": "middle"}, "encoding": {"x": {"field": "g", "type": "nominal"}, "y": {"datum": 0, "type": "quantitative", "axis": null}, "text": {"field": "n"}}},
                {"data": {"name": "D_lung_br"}, "mark": {"type": "rule", "color": "#999"}, "encoding": {"x": {"field": "from", "type": "nominal"}, "x2": {"field": "to"}, "y": {"field": "level", "type": "quantitative", "axis": null}}},
                {"data": {"name": "D_lung_br"}, "mark": {"type": "rule", "color": "#999"}, "encoding": {"x": {"field": "from", "type": "nominal"}, "y": {"field": "level", "type": "quantitative", "axis": null}, "y2": {"field": "lb"}}},
                {"data": {"name": "D_lung_br"}, "mark": {"type": "rule", "color": "#999"}, "encoding": {"x": {"field": "to", "type": "nominal"}, "y": {"field": "level", "type": "quantitative", "axis": null}, "y2": {"field": "rb"}}},
                {"data": {"name": "D_lung_br"}, "mark": {"type": "text", "fontSize": 8.5, "fontWeight": "bold", "color": "#111", "dx": 42, "dy": -8}, "encoding": {"x": {"field": "from", "type": "nominal"}, "y": {"field": "level", "type": "quantitative", "axis": null}, "text": {"field": "label"}}}
              ]
            }
          ]
        },
        {
          "resolve": {"scale": {"color": "independent", "xOffset": "independent"}, "legend": {"color": "independent"}},
          "spacing": -7,
          "vconcat": [
            {
              "width": 267, "height": 176,
              "title": {"text": "Ⓔ", "anchor": "start", "frame": "group", "dx": -59, "offset": 10, "fontSize": 38, "fontWeight": "normal", "font": "DejaVu Sans", "color": "#111"},
              "resolve": {"axis": {"y": "independent"}},
              "layer": [
                {"data": {"name": "E"}, "mark": {"type": "rule", "color": "#777"}, "encoding": {
                  "x": {"field": "week", "type": "nominal", "scale": {"domain": ["Baseline", "1", "3", "6", "9", "12"], "paddingInner": 0.24, "paddingOuter": 0.2}, "axis": {"title": "Weeks", "titleFontSize": 14, "titlePadding": 3, "labelFontSize": 11, "labelPadding": 3}},
                  "xOffset": {"field": "group", "type": "nominal", "scale": {"domain": ["TAC+WT", "CS-CSE TG"], "paddingInner": 0.1, "paddingOuter": 0}},
                  "y": {"field": "v", "type": "quantitative", "scale": {"domain": [0, 5], "nice": false}, "axis": null},
                  "y2": {"field": "e"}}},
                {"data": {"name": "E"}, "mark": {"type": "tick", "color": "#777", "size": 8, "thickness": 1, "orient": "horizontal"}, "encoding": {"x": {"field": "week", "type": "nominal"}, "xOffset": {"field": "group", "type": "nominal"}, "y": {"field": "e", "type": "quantitative", "axis": null}}},
                {"data": {"name": "E"}, "mark": {"type": "bar"}, "encoding": {
                  "x": {"field": "week", "type": "nominal", "scale": {"domain": ["Baseline", "1", "3", "6", "9", "12"], "paddingInner": 0.24, "paddingOuter": 0.2}, "axis": {"title": "Weeks", "titleFontSize": 14, "titlePadding": 3, "labelFontSize": 11, "labelPadding": 3}},
                  "xOffset": {"field": "group", "type": "nominal", "scale": {"domain": ["TAC+WT", "CS-CSE TG"], "paddingInner": 0.1, "paddingOuter": 0}},
                  "y": {"field": "v", "type": "quantitative", "scale": {"domain": [0, 5], "nice": false}, "axis": {"orient": "left", "values": [0, 1, 2, 3, 4, 5], "labelOverlap": false, "title": "LVESD (mm)", "titleFontSize": 17, "titlePadding": 6, "labelFontSize": 11, "labelPadding": 1}},
                  "color": {"field": "group", "type": "nominal", "scale": {"domain": ["TAC+WT", "CS-CSE TG"], "range": ["#f5261b", "#1d3ef4"]}, "legend": {"orient": "none", "legendX": 51, "legendY": -13, "direction": "horizontal", "title": null, "symbolType": "square", "symbolSize": 144, "symbolStrokeWidth": 0, "symbolOpacity": 1, "labelFontSize": 11, "columnPadding": 24, "labelOffset": 4}}}},
                {"data": {"name": "E"}, "mark": {"type": "point", "filled": true, "color": "white", "opacity": 1, "size": 169, "yOffset": -9}, "encoding": {"x": {"field": "week", "type": "nominal"}, "xOffset": {"field": "group", "type": "nominal"}, "y": {"datum": 0, "type": "quantitative", "axis": null}}},
                {"data": {"name": "E"}, "mark": {"type": "point", "filled": false, "color": "#111", "opacity": 1, "strokeWidth": 1, "size": 169, "yOffset": -9}, "encoding": {"x": {"field": "week", "type": "nominal"}, "xOffset": {"field": "group", "type": "nominal"}, "y": {"datum": 0, "type": "quantitative", "axis": null}}},
                {"data": {"name": "E"}, "mark": {"type": "text", "fontSize": 9, "fontWeight": "bold", "color": "#111", "dy": -9, "baseline": "middle"}, "encoding": {"x": {"field": "week", "type": "nominal"}, "xOffset": {"field": "group", "type": "nominal"}, "y": {"datum": 0, "type": "quantitative", "axis": null}, "text": {"field": "n"}}},
                {"data": {"name": "E_stars"}, "mark": {"type": "text", "fontSize": 9, "fontWeight": "bold", "color": "#444", "baseline": "middle"}, "encoding": {"x": {"field": "week", "type": "nominal"}, "xOffset": {"field": "group", "type": "nominal"}, "y": {"field": "y", "type": "quantitative", "axis": null}, "text": {"field": "label"}}},
                {"data": {"name": "E_br"}, "mark": {"type": "rule", "color": "#999"}, "encoding": {"x": {"field": "week", "type": "nominal", "bandPosition": 0.237}, "x2": {"field": "week", "bandPosition": 0.763}, "y": {"field": "level", "type": "quantitative", "axis": null}}},
                {"data": {"name": "E_br"}, "mark": {"type": "rule", "color": "#999"}, "encoding": {"x": {"field": "week", "type": "nominal"}, "xOffset": {"field": "from", "type": "nominal"}, "y": {"field": "level", "type": "quantitative", "axis": null}, "y2": {"field": "lb"}}},
                {"data": {"name": "E_br"}, "mark": {"type": "rule", "color": "#999"}, "encoding": {"x": {"field": "week", "type": "nominal"}, "xOffset": {"field": "to", "type": "nominal"}, "y": {"field": "level", "type": "quantitative", "axis": null}, "y2": {"field": "rb"}}},
                {"data": {"name": "E_br"}, "mark": {"type": "text", "fontSize": 10, "fontWeight": "bold", "color": "#111", "dy": -9, "baseline": "middle"}, "encoding": {"x": {"field": "week", "type": "nominal"}, "y": {"field": "level", "type": "quantitative", "axis": null}, "text": {"field": "label"}}}
              ]
            },
            {
              "width": 267, "height": 173,
              "title": {"text": "Ⓕ", "anchor": "start", "frame": "group", "dx": -59, "offset": -3, "fontSize": 38, "fontWeight": "normal", "font": "DejaVu Sans", "color": "#111"},
              "resolve": {"axis": {"y": "independent"}},
              "layer": [
                {"data": {"name": "F"}, "mark": {"type": "rule", "color": "#777"}, "encoding": {
                  "x": {"field": "week", "type": "nominal", "scale": {"domain": ["Baseline", "1", "3", "6", "9", "12"], "paddingInner": 0.24, "paddingOuter": 0.2}, "axis": {"title": "Weeks", "titleFontSize": 14, "titlePadding": 3, "labelFontSize": 11, "labelPadding": 3}},
                  "xOffset": {"field": "group", "type": "nominal", "scale": {"domain": ["TAC+WT", "CS-CSE TG"], "paddingInner": 0.1, "paddingOuter": 0}},
                  "y": {"field": "v", "type": "quantitative", "scale": {"domain": [0, 100], "nice": false}, "axis": null},
                  "y2": {"field": "e"}}},
                {"data": {"name": "F"}, "mark": {"type": "tick", "color": "#777", "size": 8, "thickness": 1, "orient": "horizontal"}, "encoding": {"x": {"field": "week", "type": "nominal"}, "xOffset": {"field": "group", "type": "nominal"}, "y": {"field": "e", "type": "quantitative", "axis": null}}},
                {"data": {"name": "F"}, "mark": {"type": "bar"}, "encoding": {
                  "x": {"field": "week", "type": "nominal", "scale": {"domain": ["Baseline", "1", "3", "6", "9", "12"], "paddingInner": 0.24, "paddingOuter": 0.2}, "axis": {"title": "Weeks", "titleFontSize": 14, "titlePadding": 3, "labelFontSize": 11, "labelPadding": 3}},
                  "xOffset": {"field": "group", "type": "nominal", "scale": {"domain": ["TAC+WT", "CS-CSE TG"], "paddingInner": 0.1, "paddingOuter": 0}},
                  "y": {"field": "v", "type": "quantitative", "scale": {"domain": [0, 100], "nice": false}, "axis": {"orient": "left", "values": [0, 20, 40, 60, 80, 100], "labelOverlap": false, "title": "Ejection Fraction (%)", "titleFontSize": 17, "titlePadding": 4, "labelFontSize": 11, "labelPadding": 1}},
                  "color": {"field": "group", "type": "nominal", "scale": {"domain": ["TAC+WT", "CS-CSE TG"], "range": ["#f5261b", "#1d3ef4"]}, "legend": {"orient": "none", "legendX": 51, "legendY": -16, "direction": "horizontal", "title": null, "symbolType": "square", "symbolSize": 144, "symbolStrokeWidth": 0, "symbolOpacity": 1, "labelFontSize": 11, "columnPadding": 24, "labelOffset": 4}}}},
                {"data": {"name": "F"}, "mark": {"type": "point", "filled": true, "color": "white", "opacity": 1, "size": 169, "yOffset": -8.5}, "encoding": {"x": {"field": "week", "type": "nominal"}, "xOffset": {"field": "group", "type": "nominal"}, "y": {"datum": 0, "type": "quantitative", "axis": null}}},
                {"data": {"name": "F"}, "mark": {"type": "point", "filled": false, "color": "#111", "opacity": 1, "strokeWidth": 1, "size": 169, "yOffset": -8.5}, "encoding": {"x": {"field": "week", "type": "nominal"}, "xOffset": {"field": "group", "type": "nominal"}, "y": {"datum": 0, "type": "quantitative", "axis": null}}},
                {"data": {"name": "F"}, "mark": {"type": "text", "fontSize": 9, "fontWeight": "bold", "color": "#111", "dy": -8.5, "baseline": "middle"}, "encoding": {"x": {"field": "week", "type": "nominal"}, "xOffset": {"field": "group", "type": "nominal"}, "y": {"datum": 0, "type": "quantitative", "axis": null}, "text": {"field": "n"}}},
                {"data": {"name": "F_stars"}, "mark": {"type": "text", "fontSize": 9, "fontWeight": "bold", "color": "#444", "baseline": "middle"}, "encoding": {"x": {"field": "week", "type": "nominal"}, "xOffset": {"field": "group", "type": "nominal"}, "y": {"field": "y", "type": "quantitative", "axis": null}, "text": {"field": "label"}}},
                {"data": {"name": "F_br"}, "mark": {"type": "rule", "color": "#999"}, "encoding": {"x": {"field": "week", "type": "nominal", "bandPosition": 0.237}, "x2": {"field": "week", "bandPosition": 0.763}, "y": {"field": "level", "type": "quantitative", "axis": null}}},
                {"data": {"name": "F_br"}, "mark": {"type": "rule", "color": "#999"}, "encoding": {"x": {"field": "week", "type": "nominal"}, "xOffset": {"field": "from", "type": "nominal"}, "y": {"field": "level", "type": "quantitative", "axis": null}, "y2": {"field": "lb"}}},
                {"data": {"name": "F_br"}, "mark": {"type": "rule", "color": "#999"}, "encoding": {"x": {"field": "week", "type": "nominal"}, "xOffset": {"field": "to", "type": "nominal"}, "y": {"field": "level", "type": "quantitative", "axis": null}, "y2": {"field": "rb"}}},
                {"data": {"name": "F_br"}, "mark": {"type": "text", "fontSize": 10, "fontWeight": "bold", "color": "#111", "dy": -9, "baseline": "middle"}, "encoding": {"x": {"field": "week", "type": "nominal"}, "y": {"field": "level", "type": "quantitative", "axis": null}, "text": {"field": "label"}}}
              ]
            }
          ]
        }
      ]
    }
  ]
}
